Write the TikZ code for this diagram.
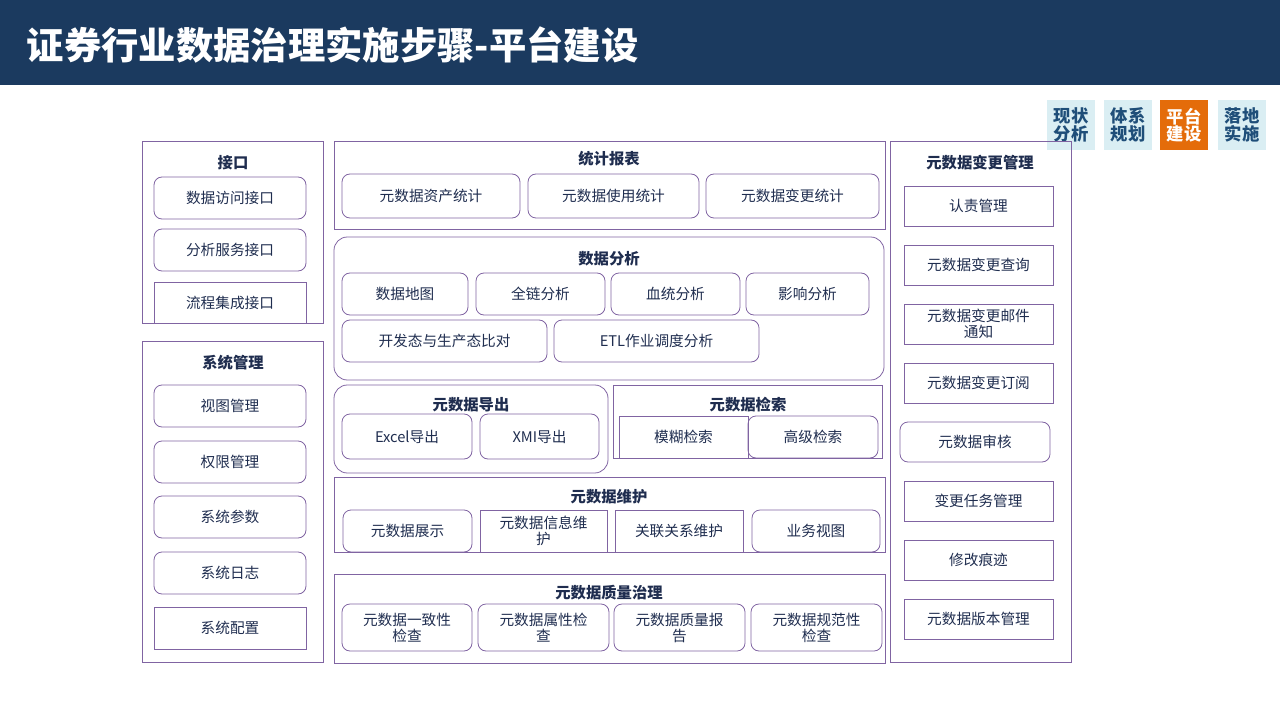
\documentclass[tikz,border=0pt]{standalone}
\usepackage{fontspec}
\setmainfont{Noto Sans CJK SC}
\usetikzlibrary{positioning}
\definecolor{navy}{HTML}{1B3A5F}
\definecolor{ink}{HTML}{1F2D4F}
\definecolor{frame}{HTML}{8064A2}
\definecolor{tabblue}{HTML}{DAEEF3}
\definecolor{tabtext}{HTML}{1F4E79}
\definecolor{tabor}{HTML}{E46C0A}
\tikzset{
  panel/.style={draw=frame,line width=0.6pt},
  item/.style={draw=frame,line width=0.6pt,rounded corners=6pt,text=ink,font=\fontsize{11}{12}\selectfont,align=center,inner sep=1pt},
  sqitem/.style={item,sharp corners},
  head/.style={text=ink,font=\bfseries\fontsize{11.5}{13}\selectfont},
  tab/.style={fill=tabblue,text=tabtext,font=\bfseries\fontsize{13}{13}\selectfont,align=center,inner sep=0pt,minimum width=36pt,minimum height=37pt}
}
% box from pixel corners
\newcommand\bx[7][]{\node[item,#1,minimum width={(#5-#3)*0.75pt},minimum height={(#6-#4)*0.75pt}] (#2) at ({(#3+#5)/2},{(#4+#6)/2}) {#7};}
\begin{document}
\begin{tikzpicture}[x=0.75pt,y=-0.75pt]
  \useasboundingbox (0,0) rectangle (1280,720);
  \fill[navy] (0,0) rectangle (1280,85);
  \node[anchor=west,text=white,font=\bfseries\fontsize{28}{30}\selectfont] (title) at (22,45) {证券行业数据治理实施步骤-平台建设};

  % step tabs
  \node[tab] (t1) at (1071,125) {现状\\分析};
  \node[tab] (t2) at (1128,125) {体系\\规划};
  \node[tab,fill=tabor,text=white] (t3) at (1184,125) {平台\\建设};
  \node[tab] (t4) at (1242,125) {落地\\实施};

  % left column
  \draw[panel] (142,141) rectangle (323,323);
  \node[head] (jk) at (233,163) {接口};
  \bx{a1}{154}{177}{306}{219}{数据访问接口}
  \bx{a2}{154}{229}{306}{271}{分析服务接口}
  \bx[sqitem]{a3}{154}{282}{306}{323}{流程集成接口}
  \draw[panel] (142,341) rectangle (323,662);
  \node[head] (xt) at (233,363) {系统管理};
  \bx{b1}{154}{385}{306}{427}{视图管理}
  \bx{b2}{154}{441}{306}{483}{权限管理}
  \bx{b3}{154}{496}{306}{538}{系统参数}
  \bx{b4}{154}{552}{306}{594}{系统日志}
  \bx[sqitem]{b5}{154}{607}{306}{649}{系统配置}

  % centre column
  \draw[panel] (334,141) rectangle (885,229);
  \node[head] (tj) at (609,159) {统计报表};
  \bx{c1}{342}{174}{520}{218}{元数据资产统计}
  \bx{c2}{528}{174}{699}{218}{元数据使用统计}
  \bx{c3}{706}{174}{879}{218}{元数据变更统计}

  \draw[panel,rounded corners=10pt] (334,237) rectangle (884,380);
  \node[head] (fx) at (609,259) {数据分析};
  \bx{d1}{342}{273}{468}{315}{数据地图}
  \bx{d2}{476}{273}{605}{315}{全链分析}
  \bx{d3}{611}{273}{740}{315}{血统分析}
  \bx{d4}{746}{273}{869}{315}{影响分析}
  \bx{d5}{342}{320}{547}{362}{开发态与生产态比对}
  \bx{d6}{554}{320}{759}{362}{ETL作业调度分析}

  \draw[panel,rounded corners=10pt] (334,385) rectangle (608,473);
  \node[head] (dc) at (471,405) {元数据导出};
  \bx{e1}{342}{414}{472}{459}{Excel导出}
  \bx{e2}{480}{414}{599}{459}{XMI导出}

  \draw[panel] (613,385) rectangle (882,458);
  \node[head] (js) at (748,405) {元数据检索};
  \bx[sqitem]{f1}{619}{416}{748}{458}{模糊检索}
  \bx{f2}{748}{416}{878}{458}{高级检索}

  \draw[panel] (334,477) rectangle (885,552);
  \node[head] (wh) at (609,497) {元数据维护};
  \bx{g1}{343}{510}{472}{552}{元数据展示}
  \bx[sqitem]{g2}{480}{510}{607}{552}{元数据信息维\\护}
  \bx[sqitem]{g3}{615}{510}{743}{552}{关联关系维护}
  \bx{g4}{752}{510}{880}{552}{业务视图}

  \draw[panel] (334,574) rectangle (885,663);
  \node[head] (zl) at (609,593) {元数据质量治理};
  \bx{h1}{342}{604}{472}{651}{元数据一致性\\检查}
  \bx{h2}{478}{604}{609}{651}{元数据属性检\\查}
  \bx{h3}{614}{604}{745}{651}{元数据质量报\\告}
  \bx{h4}{751}{604}{882}{651}{元数据规范性\\检查}

  % right column
  \draw[panel] (890,141) rectangle (1071,662);
  \node[head] (bg) at (980,163) {元数据变更管理};
  \bx[sqitem]{r1}{904}{186}{1053}{226}{认责管理}
  \bx[sqitem]{r2}{904}{245}{1053}{285}{元数据变更查询}
  \bx[sqitem]{r3}{904}{304}{1053}{344}{元数据变更邮件\\通知}
  \bx[sqitem]{r4}{904}{363}{1053}{403}{元数据变更订阅}
  \bx{r5}{900}{422}{1050}{462}{元数据审核}
  \bx[sqitem]{r6}{904}{481}{1053}{521}{变更任务管理}
  \bx[sqitem]{r7}{904}{540}{1053}{580}{修改痕迹}
  \bx[sqitem]{r8}{904}{599}{1053}{639}{元数据版本管理}
\end{tikzpicture}
\end{document}
